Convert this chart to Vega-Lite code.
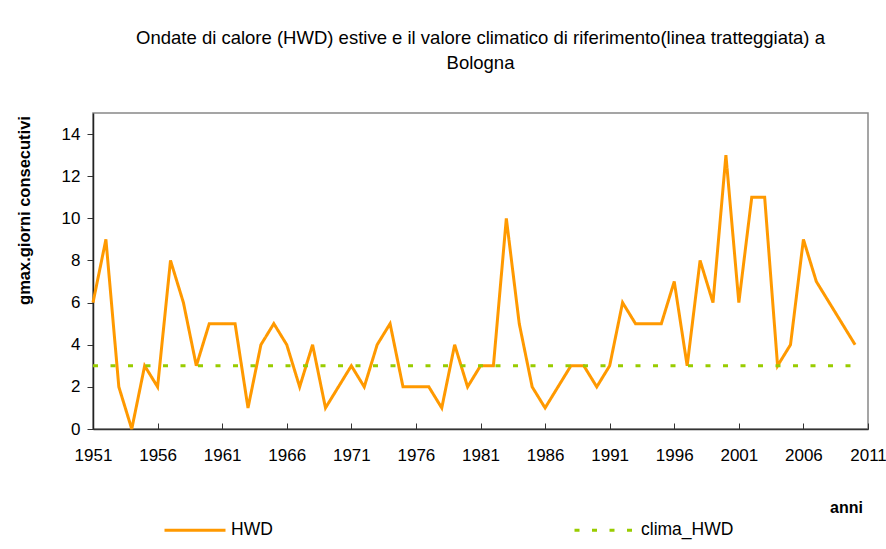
{
  "$schema": "https://vega.github.io/schema/vega-lite/v6.json",
  "autosize": {"type": "none"},
  "width": 775,
  "height": 316,
  "padding": {"left": 93, "top": 113, "right": 18, "bottom": 120},
  "background": "white",
  "title": {
    "text": ["Ondate di calore (HWD) estive e il valore climatico di riferimento(linea tratteggiata) a", "Bologna"],
    "font": "Liberation Sans",
    "fontSize": 18.5,
    "fontWeight": "normal",
    "color": "black",
    "anchor": "middle",
    "frame": "group",
    "lineHeight": 25,
    "offset": 41
  },
  "data": {
    "values": [
      {"anno": 1951, "HWD": 6, "clima_HWD": 3},
      {"anno": 1952, "HWD": 9, "clima_HWD": 3},
      {"anno": 1953, "HWD": 2, "clima_HWD": 3},
      {"anno": 1954, "HWD": 0, "clima_HWD": 3},
      {"anno": 1955, "HWD": 3, "clima_HWD": 3},
      {"anno": 1956, "HWD": 2, "clima_HWD": 3},
      {"anno": 1957, "HWD": 8, "clima_HWD": 3},
      {"anno": 1958, "HWD": 6, "clima_HWD": 3},
      {"anno": 1959, "HWD": 3, "clima_HWD": 3},
      {"anno": 1960, "HWD": 5, "clima_HWD": 3},
      {"anno": 1961, "HWD": 5, "clima_HWD": 3},
      {"anno": 1962, "HWD": 5, "clima_HWD": 3},
      {"anno": 1963, "HWD": 1, "clima_HWD": 3},
      {"anno": 1964, "HWD": 4, "clima_HWD": 3},
      {"anno": 1965, "HWD": 5, "clima_HWD": 3},
      {"anno": 1966, "HWD": 4, "clima_HWD": 3},
      {"anno": 1967, "HWD": 2, "clima_HWD": 3},
      {"anno": 1968, "HWD": 4, "clima_HWD": 3},
      {"anno": 1969, "HWD": 1, "clima_HWD": 3},
      {"anno": 1970, "HWD": 2, "clima_HWD": 3},
      {"anno": 1971, "HWD": 3, "clima_HWD": 3},
      {"anno": 1972, "HWD": 2, "clima_HWD": 3},
      {"anno": 1973, "HWD": 4, "clima_HWD": 3},
      {"anno": 1974, "HWD": 5, "clima_HWD": 3},
      {"anno": 1975, "HWD": 2, "clima_HWD": 3},
      {"anno": 1976, "HWD": 2, "clima_HWD": 3},
      {"anno": 1977, "HWD": 2, "clima_HWD": 3},
      {"anno": 1978, "HWD": 1, "clima_HWD": 3},
      {"anno": 1979, "HWD": 4, "clima_HWD": 3},
      {"anno": 1980, "HWD": 2, "clima_HWD": 3},
      {"anno": 1981, "HWD": 3, "clima_HWD": 3},
      {"anno": 1982, "HWD": 3, "clima_HWD": 3},
      {"anno": 1983, "HWD": 10, "clima_HWD": 3},
      {"anno": 1984, "HWD": 5, "clima_HWD": 3},
      {"anno": 1985, "HWD": 2, "clima_HWD": 3},
      {"anno": 1986, "HWD": 1, "clima_HWD": 3},
      {"anno": 1987, "HWD": 2, "clima_HWD": 3},
      {"anno": 1988, "HWD": 3, "clima_HWD": 3},
      {"anno": 1989, "HWD": 3, "clima_HWD": 3},
      {"anno": 1990, "HWD": 2, "clima_HWD": 3},
      {"anno": 1991, "HWD": 3, "clima_HWD": 3},
      {"anno": 1992, "HWD": 6, "clima_HWD": 3},
      {"anno": 1993, "HWD": 5, "clima_HWD": 3},
      {"anno": 1994, "HWD": 5, "clima_HWD": 3},
      {"anno": 1995, "HWD": 5, "clima_HWD": 3},
      {"anno": 1996, "HWD": 7, "clima_HWD": 3},
      {"anno": 1997, "HWD": 3, "clima_HWD": 3},
      {"anno": 1998, "HWD": 8, "clima_HWD": 3},
      {"anno": 1999, "HWD": 6, "clima_HWD": 3},
      {"anno": 2000, "HWD": 13, "clima_HWD": 3},
      {"anno": 2001, "HWD": 6, "clima_HWD": 3},
      {"anno": 2002, "HWD": 11, "clima_HWD": 3},
      {"anno": 2003, "HWD": 11, "clima_HWD": 3},
      {"anno": 2004, "HWD": 3, "clima_HWD": 3},
      {"anno": 2005, "HWD": 4, "clima_HWD": 3},
      {"anno": 2006, "HWD": 9, "clima_HWD": 3},
      {"anno": 2007, "HWD": 7, "clima_HWD": 3},
      {"anno": 2008, "HWD": 6, "clima_HWD": 3},
      {"anno": 2009, "HWD": 5, "clima_HWD": 3},
      {"anno": 2010, "HWD": 4, "clima_HWD": 3}
    ]
  },
  "transform": [{"fold": ["HWD", "clima_HWD"], "as": ["serie", "valore"]}],
  "mark": {"type": "line", "strokeWidth": 3, "strokeCap": "butt", "strokeJoin": "miter", "clip": false},
  "encoding": {
    "x": {
      "field": "anno",
      "type": "quantitative",
      "scale": {"domain": [1951, 2011], "nice": false, "zero": false},
      "axis": {
        "values": [1951, 1956, 1961, 1966, 1971, 1976, 1981, 1986, 1991, 1996, 2001, 2006, 2011],
        "format": "d",
        "grid": false,
        "title": "anni",
        "titleFont": "Liberation Sans",
        "titleFontSize": 16,
        "titleFontWeight": "bold",
        "titleColor": "black",
        "titleAnchor": "start",
        "titleAlign": "center",
        "titleBaseline": "middle",
        "titleX": 753,
        "titleY": 78,
        "labelFont": "Liberation Sans",
        "labelFontSize": 17,
        "labelColor": "black",
        "labelPadding": 24,
        "labelFlush": false,
        "labelOverlap": false,
        "tickSize": -6,
        "tickColor": "#333333",
        "domainColor": "#333333",
        "domainWidth": 1.5
      }
    },
    "y": {
      "field": "valore",
      "type": "quantitative",
      "scale": {"domain": [0, 15], "nice": false},
      "axis": {
        "values": [0, 2, 4, 6, 8, 10, 12, 14],
        "grid": false,
        "title": "gmax.giorni consecutivi",
        "titleFont": "Liberation Sans",
        "titleFontSize": 16.5,
        "titleFontWeight": "bold",
        "titleColor": "black",
        "titleAngle": -90,
        "titleAlign": "center",
        "titleBaseline": "middle",
        "titleX": -69,
        "titleY": 97,
        "labelFont": "Liberation Sans",
        "labelFontSize": 17,
        "labelColor": "black",
        "labelPadding": 7,
        "tickSize": 6,
        "tickColor": "#333333",
        "domainColor": "#222222",
        "domainWidth": 1.5
      }
    },
    "color": {
      "field": "serie",
      "type": "nominal",
      "scale": {"domain": ["HWD", "clima_HWD"], "range": ["#FF9900", "#99CC00"]},
      "legend": {"title": null}
    },
    "strokeDash": {
      "field": "serie",
      "type": "nominal",
      "scale": {"domain": ["HWD", "clima_HWD"], "range": [[1, 0], [5, 12.5]]},
      "legend": {"title": null}
    }
  },
  "config": {
    "view": {"stroke": "#888888", "strokeWidth": 1.5},
    "legend": {
      "orient": "none",
      "legendX": 70,
      "legendY": 385,
      "direction": "horizontal",
      "symbolType": "stroke",
      "symbolSize": 3721,
      "symbolStrokeWidth": 3,
      "labelFont": "Liberation Sans",
      "labelFontSize": 17.5,
      "labelColor": "black",
      "labelOffset": 4,
      "columnPadding": 295
    }
  }
}
